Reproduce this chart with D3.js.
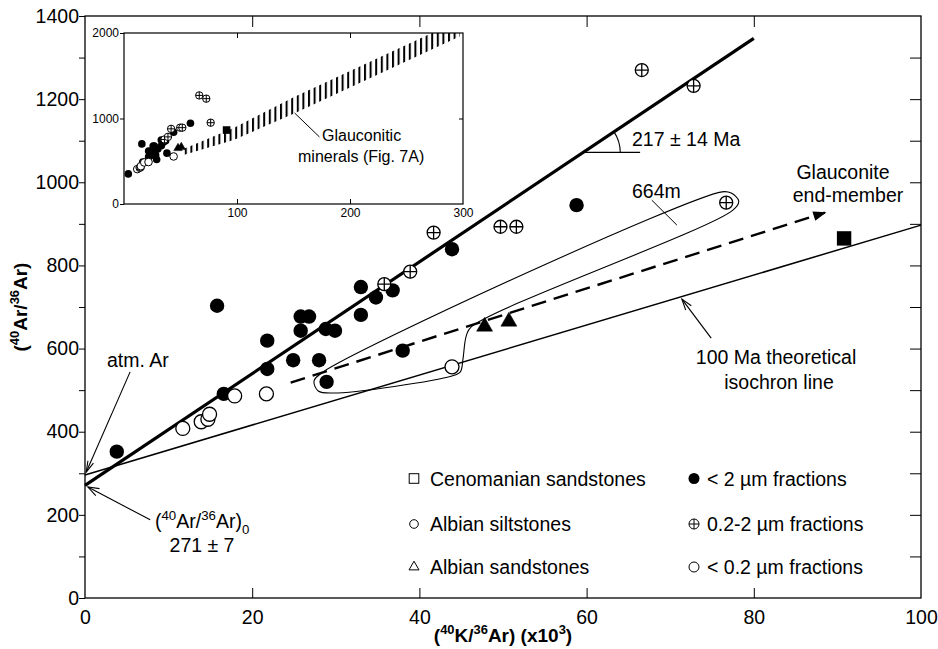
<!DOCTYPE html>
<html lang="en">
<head>
<meta charset="UTF-8">
<title>40Ar/36Ar vs 40K/36Ar isochron</title>
<script src="https://cdn.jsdelivr.net/npm/d3@7"></script>
<style>
    body { margin: 0; background: #fff; }
    svg text { font-family: "Liberation Sans", Arial, Helvetica, sans-serif; fill: #000; }
    .axis path.domain { display: none; }
    .axis line { stroke: #000; stroke-width: 1; }
</style>
</head>
<body>
<div id="chart"></div>
<script>
// ---- data: [40K/36Ar (x10^3), 40Ar/36Ar] ----
var siltLt2 = [[3.8,352],[15.8,703],[16.6,491],[21.8,619],[21.8,551],[24.9,572],[25.8,677],[26.8,677],
               [25.8,643],[28.8,647],[29.9,643],[28.0,572],[28.9,520],[33.0,748],[33.0,681],[34.8,723],
               [36.8,740],[43.9,839],[58.8,945],[38.0,595]];
var silt02to2 = [[35.8,755],[38.9,785],[41.7,879],[49.7,893],[51.6,893],[66.6,1270],[72.8,1232],[76.7,951]];
var siltLt02 = [[11.7,408],[13.9,424],[14.7,430],[14.9,442],[17.9,486],[21.7,491],[43.9,556]];
var sandAlbLt2 = [[47.8,653],[50.7,665]];
var sandCenoLt2 = [[90.8,865]];

// lines
var isochron217 = [[0,271],[80,1346]];
var isochron100 = [[0,296],[100,897]];
var endMemberTrend = [[24.6,518],[88.5,927]];
var loop664m = [[28.5,544],[76.2,977],[77.3,974],[78.2,955],[77.5,933],[46.2,652],[45.6,630],
                [45.2,573],[44.9,544],[43.9,534],[29.7,493],[27.9,498],[27.4,522]];

// glauconitic minerals band of the inset (Fig. 7A)
var bandLower = [[52,570],[97,750],[151,1060],[297,1960]];
var bandUpper = [[52,640],[97,890],[151,1255],[297,2150]];

// axis ticks
var xTicks = [0,20,40,60,80,100];
var yTicks = d3.range(0, 1401, 100);
var insetXTicks = [100,200,300];
var insetYTicks = [0,1000,2000];

var rockTypes = ["Cenomanian sandstones","Albian siltstones","Albian sandstones"];
var fractions = ["< 2 \u00b5m fractions","0.2-2 \u00b5m fractions","< 0.2 \u00b5m fractions"];

// ---------------------------------------------------------------
var W = 938, H = 649, FS = 19.5;

var svg = d3.select('#chart').append('svg').attr('width', W).attr('height', H);

var x = d3.scaleLinear().domain([0,100]).range([85,921]);
var y = d3.scaleLinear().domain([0,1400]).range([598,16]);

var xi = d3.scaleLinear().domain([0,300]).range([124,463]);
var yi = d3.scaleLinear().domain([0,2000]).range([204,33]);

function rich(text, parts, fs)
{
    var shift = 0;
    parts.forEach(function(p)
    {
        var target = p[1] === 'sup' ? -0.4*fs : (p[1] === 'sub' ? 0.3*fs : 0);
        var t = text.append('tspan').text(p[0]).attr('dy', target - shift);
        if (p[1]) t.attr('font-size', fs*0.68);
        shift = target;
    });
}

// r is the radius for circles, half side for squares, side for triangles
function mark(g, kind, px, py, r, sw)
{
    if (kind === 'disc') {
        g.append('circle').attr('cx', px).attr('cy', py).attr('r', r).attr('fill', '#000');
    } else if (kind === 'ring' || kind === 'cross') {
        g.append('circle').attr('cx', px).attr('cy', py).attr('r', r)
            .attr('fill', '#fff').attr('stroke', '#000').attr('stroke-width', sw);
        if (kind === 'cross')
            g.append('path').attr('stroke', '#000').attr('stroke-width', sw)
                .attr('d', 'M' + (px - r) + ',' + py + 'H' + (px + r) + 'M' + px + ',' + (py - r) + 'V' + (py + r));
    } else if (kind === 'tri' || kind === 'triO') {
        g.append('path').attr('transform', 'translate(' + px + ',' + py + ')')
            .attr('d', d3.symbol(d3.symbolTriangle, Math.sqrt(3) / 4 * r * r)())
            .attr('fill', kind === 'tri' ? '#000' : '#fff')
            .attr('stroke', '#000').attr('stroke-width', sw);
    } else if (kind === 'sq' || kind === 'sqO') {
        g.append('rect').attr('x', px - r).attr('y', py - r).attr('width', 2*r).attr('height', 2*r)
            .attr('fill', kind === 'sq' ? '#000' : '#fff')
            .attr('stroke', '#000').attr('stroke-width', sw);
    }
}

function arrowHead(g, p0, p1, len, half, filled)
{
    var dx = p1[0] - p0[0], dy = p1[1] - p0[1], l = Math.sqrt(dx*dx + dy*dy);
    var ux = dx / l, uy = dy / l;
    var bx = p1[0] - ux*len, by = p1[1] - uy*len;
    var a = [bx - uy*half, by + ux*half], b = [bx + uy*half, by - ux*half];
    var d = filled ? 'M' + a + 'L' + p1 + 'L' + b + 'Z' : 'M' + a + 'L' + p1 + 'L' + b;
    g.append('path').attr('d', d).attr('fill', filled ? '#000' : 'none')
        .attr('stroke', '#000').attr('stroke-width', 1.1);
}

function px(d) { return [x(d[0]), y(d[1])]; }

// ---- main axes ----
var axes = svg.append('g');

axes.append('g').attr('class', 'axis').attr('transform', 'translate(85,0)')
    .call(d3.axisLeft(y).tickValues(yTicks).tickSize(6).tickPadding(0)
        .tickFormat(function(d) { return d % 200 === 0 ? d : ''; }));
axes.append('g').attr('class', 'axis').attr('transform', 'translate(921,0)')
    .call(d3.axisLeft(y).tickValues(yTicks.slice(1, -1)).tickSize(11).tickFormat(''));
axes.append('g').attr('class', 'axis').attr('transform', 'translate(0,598)')
    .call(d3.axisTop(x).tickValues(xTicks.slice(1, -1)).tickSize(10).tickFormat(''));
axes.append('g').attr('class', 'axis').attr('transform', 'translate(0,16)')
    .call(d3.axisBottom(x).tickValues(xTicks.slice(1, -1)).tickSize(11).tickFormat(''));
axes.append('g').attr('class', 'axis').attr('transform', 'translate(0,598)')
    .call(d3.axisBottom(x).tickValues(xTicks).tickSize(0).tickPadding(12));
axes.selectAll('.axis text').attr('font-size', FS).attr('font-family', null);

svg.append('rect').attr('x', 85).attr('y', 16).attr('width', 836).attr('height', 582)
    .attr('fill', 'none').attr('stroke', '#000').attr('stroke-width', 1.3);

// axis titles
var yt = svg.append('text').attr('transform', 'translate(27,307) rotate(-90)')
    .attr('text-anchor', 'middle').attr('font-weight', 'bold').attr('font-size', 19);
rich(yt, [['('],['40','sup'],['Ar/'],['36','sup'],['Ar)']], 19);

var xt = svg.append('text').attr('x', 503).attr('y', 642)
    .attr('text-anchor', 'middle').attr('font-weight', 'bold').attr('font-size', 19);
rich(xt, [['('],['40','sup'],['K/'],['36','sup'],['Ar) (x10'],['3','sup'],[')']], 19);

// ---- inset ----
var inset = svg.append('g');
inset.append('rect').attr('x', 124).attr('y', 33).attr('width', 339).attr('height', 171)
    .attr('fill', '#fff');

var defs = svg.append('defs');
defs.append('clipPath').attr('id', 'insetClip').append('rect')
    .attr('x', 124).attr('y', 33).attr('width', 339).attr('height', 171);
defs.append('pattern').attr('id', 'hatch').attr('patternUnits', 'userSpaceOnUse')
    .attr('width', 5.6).attr('height', 10)
  .append('rect').attr('x', 0).attr('y', 0).attr('width', 2).attr('height', 10).attr('fill', '#000');

var band = bandLower.concat(bandUpper.slice().reverse());
inset.append('path').attr('clip-path', 'url(#insetClip)')
    .attr('d', d3.line().x(function(d) { return xi(d[0]); }).y(function(d) { return yi(d[1]); })(band) + 'Z')
    .attr('fill', 'url(#hatch)');

inset.append('g').attr('class', 'axis').attr('transform', 'translate(124,0)')
    .call(d3.axisLeft(yi).tickValues(insetYTicks).tickSize(4).tickPadding(1).tickFormat(d3.format('d')));
inset.append('g').attr('class', 'axis').attr('transform', 'translate(463,0)')
    .call(d3.axisLeft(yi).tickValues([1000]).tickSize(4).tickFormat(''));
inset.append('g').attr('class', 'axis').attr('transform', 'translate(0,204)')
    .call(d3.axisTop(xi).tickValues([100,200]).tickSize(5).tickFormat(''));
inset.append('g').attr('class', 'axis').attr('transform', 'translate(0,33)')
    .call(d3.axisBottom(xi).tickValues([100,200]).tickSize(5).tickFormat(''));
inset.append('g').attr('class', 'axis').attr('transform', 'translate(0,204)')
    .call(d3.axisBottom(xi).tickValues(insetXTicks).tickSize(0).tickPadding(4).tickFormat(d3.format('d')));
inset.selectAll('.axis text').attr('font-size', 12).attr('font-family', null);

inset.append('rect').attr('x', 124).attr('y', 33).attr('width', 339).attr('height', 171)
    .attr('fill', 'none').attr('stroke', '#000').attr('stroke-width', 1.2);

var ip = inset.append('g');
siltLt2.forEach(function(d) { mark(ip, 'disc', xi(d[0]), yi(d[1]), 3.8, 1); });
siltLt02.forEach(function(d) { mark(ip, 'ring', xi(d[0]), yi(d[1]), 3.8, 1); });
silt02to2.forEach(function(d) { mark(ip, 'cross', xi(d[0]), yi(d[1]), 3.7, 1); });
sandAlbLt2.forEach(function(d) { mark(ip, 'tri', xi(d[0]), yi(d[1]), 8.5, 0.5); });
sandCenoLt2.forEach(function(d) { mark(ip, 'sq', xi(d[0]), yi(d[1]), 3.8, 0); });

inset.append('path').attr('stroke', '#000').attr('stroke-width', 1).attr('fill', 'none')
    .attr('d', 'M' + xi(151) + ',' + yi(1064) + 'L' + xi(173) + ',' + yi(784));
inset.append('text').attr('x', 322).attr('y', 141).attr('font-size', 16).text('Glauconitic');
inset.append('text').attr('x', 298).attr('y', 162).attr('font-size', 16).text('minerals (Fig. 7A)');

// ---- main lines ----
var line = d3.line().x(function(d) { return x(d[0]); }).y(function(d) { return y(d[1]); });
var lines = svg.append('g').attr('fill', 'none').attr('stroke', '#000');

lines.append('path').attr('d', line(isochron100)).attr('stroke-width', 1.5);
lines.append('path').attr('d', line(isochron217)).attr('stroke-width', 3.2);
lines.append('path').attr('d', line(endMemberTrend)).attr('stroke-width', 2.4)
    .attr('stroke-dasharray', '15,8');
arrowHead(svg, px(endMemberTrend[0]), px(endMemberTrend[1]), 11, 4, true);
lines.append('path')
    .attr('d', d3.line().x(function(d) { return x(d[0]); }).y(function(d) { return y(d[1]); })
        .curve(d3.curveCatmullRomClosed.alpha(0.5))(loop664m))
    .attr('stroke-width', 1.1);

// ---- main points ----
var pts = svg.append('g');
siltLt2.forEach(function(d) { mark(pts, 'disc', x(d[0]), y(d[1]), 7.2, 1.3); });
siltLt02.forEach(function(d) { mark(pts, 'ring', x(d[0]), y(d[1]), 7, 1.3); });
silt02to2.forEach(function(d) { mark(pts, 'cross', x(d[0]), y(d[1]), 6.5, 1.3); });
sandAlbLt2.forEach(function(d) { mark(pts, 'tri', x(d[0]), y(d[1]), 16, 0.5); });
sandCenoLt2.forEach(function(d) { mark(pts, 'sq', x(d[0]), y(d[1]), 7.2, 0); });

// ---- annotations ----
var ann = svg.append('g').attr('font-size', FS);

// 217 Ma angle
var a0 = px([59.6, 271 + (1346 - 271) * 59.6 / 80]);
var ang = Math.atan2(y(isochron217[0][1]) - y(isochron217[1][1]), x(isochron217[1][0]) - x(isochron217[0][0]));
var arc = d3.path();
arc.moveTo(a0[0] + 37, a0[1]);
arc.arc(a0[0], a0[1], 37, 0, -ang, true);
ann.append('path').attr('d', arc.toString()).attr('fill', 'none').attr('stroke', '#000').attr('stroke-width', 1.1);
ann.append('path').attr('d', 'M' + a0 + 'H' + x(66.4)).attr('stroke', '#000').attr('stroke-width', 1.1);
ann.append('text').attr('x', 632).attr('y', 146).text('217 \u00b1 14 Ma');

// 664m
ann.append('text').attr('x', 632).attr('y', 198).text('664m');
ann.append('path').attr('d', 'M' + px([67.8,957]) + 'L' + px([70.8,897])).attr('stroke', '#000').attr('stroke-width', 1);

// Glauconite end-member
ann.append('text').attr('x', 843).attr('y', 179).attr('text-anchor', 'middle').text('Glauconite');
ann.append('text').attr('x', 848).attr('y', 202).attr('text-anchor', 'middle').text('end-member');

// 100 Ma isochron
ann.append('text').attr('x', 776).attr('y', 364).attr('text-anchor', 'middle').text('100 Ma theoretical');
ann.append('text').attr('x', 779).attr('y', 389).attr('text-anchor', 'middle').text('isochron line');
var p100a = px([74.9,625]), p100b = px([71.4,719]);
ann.append('path').attr('d', 'M' + p100a + 'L' + p100b).attr('stroke', '#000').attr('stroke-width', 1.1);
arrowHead(ann, p100a, p100b, 11, 3.5, false);

// atm. Ar
ann.append('text').attr('x', 107).attr('y', 367).text('atm. Ar');
var pAa = px([5.4,544]), pAb = px([0.15,303]);
ann.append('path').attr('d', 'M' + pAa + 'L' + pAb).attr('stroke', '#000').attr('stroke-width', 1.1);
arrowHead(ann, pAa, pAb, 11, 3, false);

// initial ratio
var it = ann.append('text').attr('x', 155).attr('y', 528);
rich(it, [['('],['40','sup'],['Ar/'],['36','sup'],['Ar)'],['0','sub']], FS);
ann.append('text').attr('x', 202).attr('y', 552).attr('text-anchor', 'middle').text('271 \u00b1 7');
var pIa = px([7.8,188]), pIb = px([0.35,267]);
ann.append('path').attr('d', 'M' + pIa + 'L' + pIb).attr('stroke', '#000').attr('stroke-width', 1.1);
arrowHead(ann, pIa, pIb, 11, 4, false);

// ---- legend ----
var leg = svg.append('g').attr('font-size', FS);
var rowsY = [478.5, 524, 567];
var rockMarks = ['sqO','ring','triO'];
var fracMarks = ['disc','cross','ring'];
var rockSize = [4.8, 4.3, 10];
rockTypes.forEach(function(t, i)
{
    mark(leg, rockMarks[i], 414, rowsY[i], rockSize[i], 1);
    leg.append('text').attr('x', 430).attr('y', rowsY[i] + 7).text(t);
});
fractions.forEach(function(t, i)
{
    mark(leg, fracMarks[i], 694, rowsY[i], fracMarks[i] === 'disc' ? 5.5 : 5, 1);
    leg.append('text').attr('x', 707).attr('y', rowsY[i] + 7).text(t);
});
</script>
</body>
</html>
